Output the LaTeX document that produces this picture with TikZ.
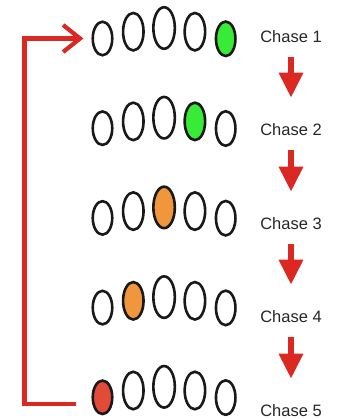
\documentclass[tikz,border=0pt]{standalone}
\usepackage{fontspec}
\setmainfont{Liberation Sans}
\usepackage{tikz}
\usetikzlibrary{arrows.meta,shapes.geometric}

\definecolor{chgreen}{RGB}{55,235,55}
\definecolor{chorange}{RGB}{240,150,60}
\definecolor{chred}{RGB}{225,75,55}
\definecolor{arrowred}{RGB}{220,40,35}

\tikzset{
	oval/.style={ellipse, draw=black!90, line width=2.6pt, inner sep=0pt},
	chaselabel/.style={inner sep=0pt, text=black!85, font=\fontsize{16.5}{20}\selectfont},
	downarrow/.style={draw=arrowred, line width=6pt, -{Triangle[length=25pt,width=23pt]}, shorten <=14pt, shorten >=26pt},
	loopline/.style={draw=arrowred, line width=4.2pt, -{Straight Barb[length=17pt,width=27pt]}}
}

\begin{document}
\begin{tikzpicture}[x=1pt, y=-1pt]
		\useasboundingbox (0,0) rectangle (342,419);

		% five rows of ovals, one of them coloured
		\foreach \r/\k/\col in {1/5/chgreen, 2/4/chgreen, 3/3/chorange, 4/2/chorange, 5/1/chred}{
			\foreach \c/\w/\h/\dy in {1/19.5/33.5/10.5, 2/20.5/37.5/3.7, 3/21.5/41.5/0, 4/20.5/37.5/3.7, 5/19.5/34.5/10.8}{
				\ifnum\c=\k \def\fc{\col}\else\def\fc{white}\fi
				\node[oval, fill=\fc, minimum width=\w pt, minimum height=\h pt] (o\r\c) at ({102.5+30.8*(\c-1)}, {28+89.7*(\r-1)+\dy}) {};
			}
		}

		% labels
		\node[chaselabel] (chase1) at (291, 37) {Chase 1};
		\node[chaselabel] (chase2) at (291, 130) {Chase 2};
		\node[chaselabel] (chase3) at (291, 224) {Chase 3};
		\node[chaselabel] (chase4) at (291, 317) {Chase 4};
		\node[chaselabel] (chase5) at (291, 411) {Chase 5};

		\draw[downarrow] (chase1) -- (chase2);
		\draw[downarrow] (chase2) -- (chase3);
		\draw[downarrow] (chase3) -- (chase4);
		\draw[downarrow] (chase4) -- (chase5);

		% back to the start
		\draw[loopline] ([xshift=-15pt, yshift=-7pt]o51.west) -| ([xshift=-67pt]o11.west) -- ([xshift=-8pt]o11.west);

	\end{tikzpicture}
\end{document}
